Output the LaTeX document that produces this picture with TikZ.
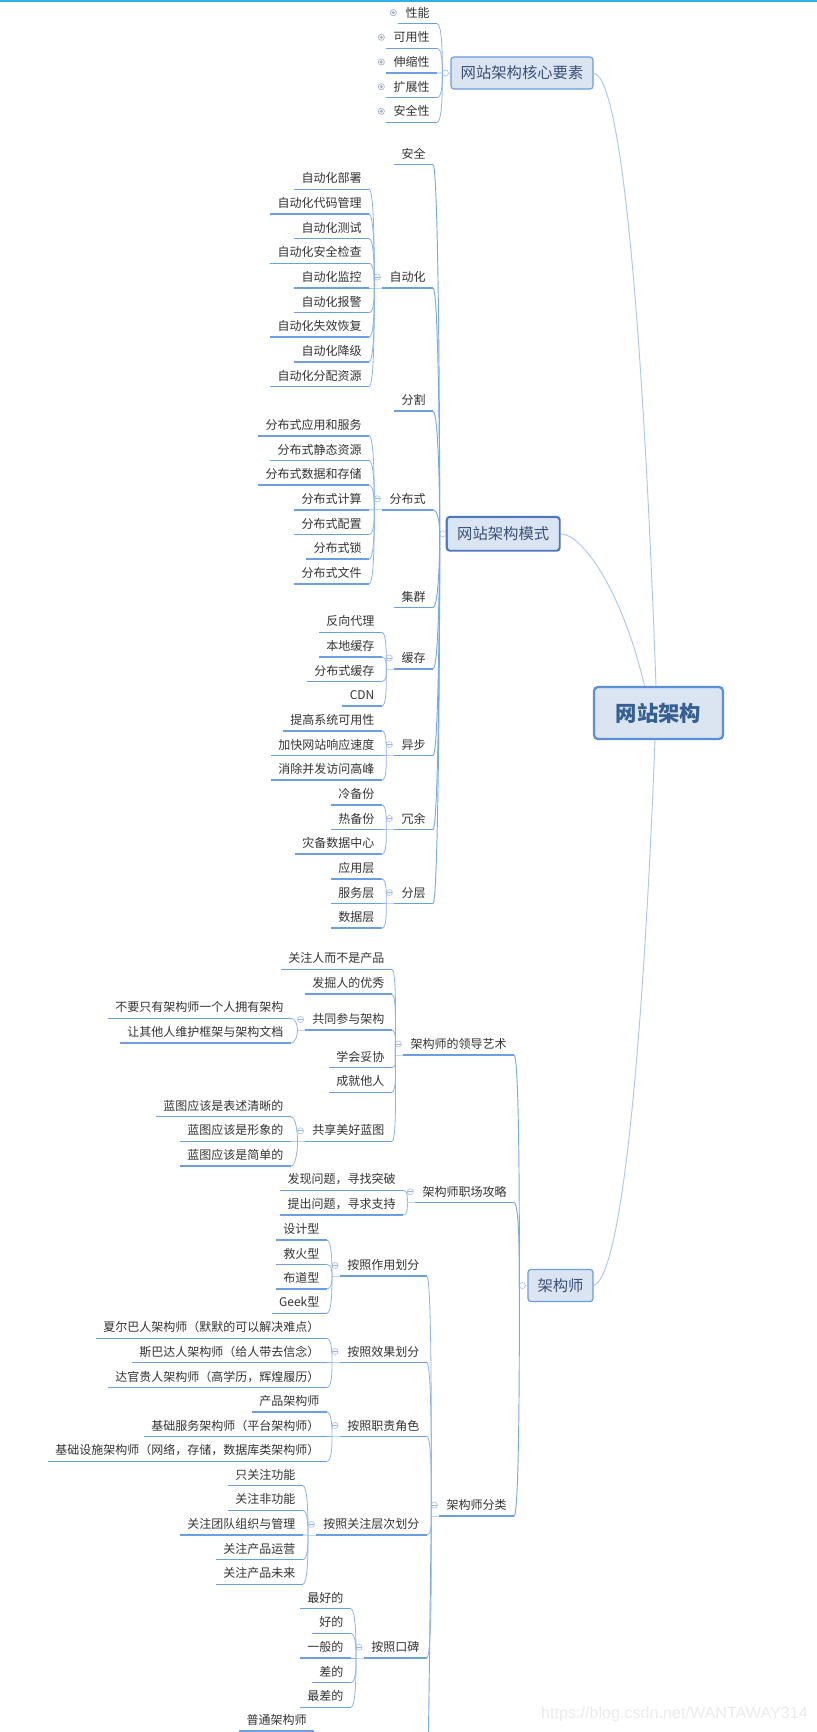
\documentclass[tikz,border=0pt]{standalone}
\usepackage{fontspec}
\setmainfont{Noto Sans CJK SC}
\newfontfamily\markfont{Liberation Sans}
\usetikzlibrary{calc}
\definecolor{barblue}{HTML}{2FB1E8}
\definecolor{underblue}{HTML}{6A9FE3}
\definecolor{connblue}{HTML}{8DB3EA}
\definecolor{curveblue}{HTML}{A9C8F0}
\definecolor{foldblue}{HTML}{A8C4EC}
\definecolor{boxfill}{HTML}{DBE5F2}
\definecolor{boxline}{HTML}{6C9BDE}
\definecolor{rootline}{HTML}{5B8FD6}
\definecolor{modeline}{HTML}{4F74C0}
\definecolor{boxtext}{HTML}{3A5078}
\definecolor{roottext}{HTML}{365F91}
\definecolor{leaftext}{HTML}{333333}
\definecolor{marktext}{HTML}{EBEBEB}

\begin{document}
\begin{tikzpicture}[x=0.75pt,y=-0.75pt]
\tikzstyle{under}=[draw=underblue,line width=1.1pt]
\tikzstyle{leaf}=[anchor=south east,inner xsep=5.3pt,inner ysep=0pt,minimum height=15.75pt,text=leaftext,font=\fontsize{9}{11}\selectfont,text height=7.8pt,text depth=1.2pt,append after command={(\tikzlastnode.south west) edge [under] (\tikzlastnode.south east)}]
\tikzstyle{conn}=[draw=connblue,line width=0.6pt,to path={.. controls ($(\tikztostart)+(5,0)$) and ($(\tikztotarget)!0.4!(\tikztotarget |- \tikztostart)$) .. (\tikztotarget)}]
\tikzstyle{trunk}=[draw=underblue!90,line width=0.7pt,to path={.. controls ($(\tikztostart)+(5,0)$) and ($(\tikztotarget)!0.4!(\tikztotarget |- \tikztostart)$) .. (\tikztotarget)}]
\tikzstyle{faint}=[draw=foldblue!70,line width=0.5pt]
\tikzstyle{curve}=[draw=curveblue,line width=0.7pt]
\tikzstyle{ring}=[circle,draw=foldblue,fill=white,line width=0.5pt,minimum size=4.6pt,inner sep=0pt]
\tikzstyle{fold}=[ring,path picture={\draw [draw=foldblue!80!gray] (path picture bounding box.west) -- (path picture bounding box.east);}]
\tikzstyle{dotm}=[ring,draw=foldblue!70!gray,path picture={\fill [fill=foldblue!60!gray] (path picture bounding box.center) circle (1.6);}]
\tikzstyle{box}=[rounded corners=2.2pt,draw=boxline,fill=boxfill,line width=0.9pt,inner sep=0pt,text=boxtext,font=\fontsize{11.5}{13}\selectfont]
\useasboundingbox (0,0) rectangle (817,1732);
\fill [white] (0,0) rectangle (817,1732);
\fill [barblue] (0,0) rectangle (817,1.5);

% root and the three main topics
\node [box,rounded corners=3pt,draw=rootline,line width=1.7pt,minimum width=96.75pt,minimum height=39pt,text=roottext,font=\fontsize{16}{18}\selectfont\bfseries] (root) at (658.5,713) {网站架构};
\node [box,minimum width=106.5pt,minimum height=24pt] (core) at (522,73) {网站架构核心要素};
\node [box,draw=modeline,line width=1.6pt,minimum width=84.65pt,minimum height=25.2pt] (mode) at (503.2,533.8) {网站架构模式};
\node [rounded corners=1.4pt,draw=white!70!boxline,line width=0.7pt,inner sep=0pt,minimum width=82.4pt,minimum height=23pt] (modein) at (mode.center) {};
\node [box,minimum width=48.75pt,minimum height=24pt] (arch) at (560.5,1285.5) {架构师};
\draw [curve] (core.east) .. controls (625,78) and (645,380) .. ([shift={(-2.5,0)}]root.north);
\draw [curve] (mode.east) .. controls (582,534) and (622,590) .. ([shift={(-14,0)}]root.north);
\draw [curve] (arch.east) .. controls (625,1275) and (645,1000) .. ([shift={(-3.5,0)}]root.south);
\coordinate (corej) at ([shift={(-8,0)}]core.west);
\coordinate (modej) at ([shift={(-6,0)}]mode.west);
\coordinate (archj) at ([shift={(-8,0)}]arch.west);
\draw [faint] (corej) -- (core.west);
\draw [faint] (modej) -- (mode.west);
\draw [faint] (archj) -- (arch.west);
\node [ring] (coref) at ([shift={(-5,0)}]core.west) {};
\node [ring] (modef) at ([shift={(-3,0)}]mode.west) {};
\node [ring] (archf) at ([shift={(-5,0)}]arch.west) {};

% core topics
\node [leaf] (core1) at (437,23.7) {性能};
\node [leaf] (core2) at (437,48.3) {可用性};
\node [leaf] (core3) at (437,73) {伸缩性};
\node [leaf] (core4) at (437,97.7) {扩展性};
\node [leaf] (core5) at (437,122.3) {安全性};
\node [dotm] (core1m) at ([shift={(-5,-11)}]core1.south west) {};
\node [dotm] (core2m) at ([shift={(-5,-11)}]core2.south west) {};
\node [dotm] (core3m) at ([shift={(-5,-11)}]core3.south west) {};
\node [dotm] (core4m) at ([shift={(-5,-11)}]core4.south west) {};
\node [dotm] (core5m) at ([shift={(-5,-11)}]core5.south west) {};
\draw [conn] (core1.south east) to (corej);
\draw [conn] (core2.south east) to (corej);
\draw [conn] (core3.south east) to (corej);
\draw [conn] (core4.south east) to (corej);
\draw [conn] (core5.south east) to (corej);

% mode topics
\node [leaf] (safe) at (433,164.7) {安全};
\node [leaf] (auto) at (433,288) {自动化};
\node [leaf] (cut) at (433,411.2) {分割};
\node [leaf] (dist) at (433,509.8) {分布式};
\node [leaf] (clus) at (433,607.5) {集群};
\node [leaf] (cache) at (433,669) {缓存};
\node [leaf] (async) at (433,755.5) {异步};
\node [leaf] (redun) at (433,829.5) {冗余};
\node [leaf] (layer) at (433,903.5) {分层};
\draw [trunk] (safe.south east) to (modej);
\draw [trunk] (auto.south east) to (modej);
\draw [trunk] (cut.south east) to (modej);
\draw [trunk] (dist.south east) to (modej);
\draw [trunk] (clus.south east) to (modej);
\draw [trunk] (cache.south east) to (modej);
\draw [trunk] (async.south east) to (modej);
\draw [trunk] (redun.south east) to (modej);
\draw [trunk] (layer.south east) to (modej);

\node [fold] (autof) at ([shift={(-5,-11)}]auto.south west) {};
\coordinate (autoj) at ([shift={(-8,0)}]auto.south west);
\draw [faint] (autoj) -- (auto.south west);
\node [leaf] (auto1) at (369,189.3) {自动化部署};
\node [leaf] (auto2) at (369,214) {自动化代码管理};
\node [leaf] (auto3) at (369,238.6) {自动化测试};
\node [leaf] (auto4) at (369,263.3) {自动化安全检查};
\node [leaf] (auto5) at (369,288) {自动化监控};
\node [leaf] (auto6) at (369,312.6) {自动化报警};
\node [leaf] (auto7) at (369,337.2) {自动化失效恢复};
\node [leaf] (auto8) at (369,361.9) {自动化降级};
\node [leaf] (auto9) at (369,386.5) {自动化分配资源};
\draw [conn] (auto1.south east) to (autoj);
\draw [conn] (auto2.south east) to (autoj);
\draw [conn] (auto3.south east) to (autoj);
\draw [conn] (auto4.south east) to (autoj);
\draw [conn] (auto5.south east) to (autoj);
\draw [conn] (auto6.south east) to (autoj);
\draw [conn] (auto7.south east) to (autoj);
\draw [conn] (auto8.south east) to (autoj);
\draw [conn] (auto9.south east) to (autoj);

\node [fold] (distf) at ([shift={(-5,-11)}]dist.south west) {};
\coordinate (distj) at ([shift={(-8,0)}]dist.south west);
\draw [faint] (distj) -- (dist.south west);
\node [leaf] (dist1) at (369,435.8) {分布式应用和服务};
\node [leaf] (dist2) at (369,460.5) {分布式静态资源};
\node [leaf] (dist3) at (369,485.2) {分布式数据和存储};
\node [leaf] (dist4) at (369,509.8) {分布式计算};
\node [leaf] (dist5) at (369,534.5) {分布式配置};
\node [leaf] (dist6) at (369,559.2) {分布式锁};
\node [leaf] (dist7) at (369,583.9) {分布式文件};
\draw [conn] (dist1.south east) to (distj);
\draw [conn] (dist2.south east) to (distj);
\draw [conn] (dist3.south east) to (distj);
\draw [conn] (dist4.south east) to (distj);
\draw [conn] (dist5.south east) to (distj);
\draw [conn] (dist6.south east) to (distj);
\draw [conn] (dist7.south east) to (distj);

\node [fold] (cachef) at ([shift={(-5,-11)}]cache.south west) {};
\coordinate (cachej) at ([shift={(-8,0)}]cache.south west);
\draw [faint] (cachej) -- (cache.south west);
\node [leaf] (cache1) at (381.7,632.3) {反向代理};
\node [leaf] (cache2) at (381.7,657) {本地缓存};
\node [leaf] (cache3) at (381.7,681.5) {分布式缓存};
\node [leaf] (cache4) at (381.7,706.2) {CDN};
\draw [conn] (cache1.south east) to (cachej);
\draw [conn] (cache2.south east) to (cachej);
\draw [conn] (cache3.south east) to (cachej);
\draw [conn] (cache4.south east) to (cachej);

\node [fold] (asyncf) at ([shift={(-5,-11)}]async.south west) {};
\coordinate (asyncj) at ([shift={(-8,0)}]async.south west);
\draw [faint] (asyncj) -- (async.south west);
\node [leaf] (async1) at (381.7,730.9) {提高系统可用性};
\node [leaf] (async2) at (381.7,755.5) {加快网站响应速度};
\node [leaf] (async3) at (381.7,780.2) {消除并发访问高峰};
\draw [conn] (async1.south east) to (asyncj);
\draw [conn] (async2.south east) to (asyncj);
\draw [conn] (async3.south east) to (asyncj);

\node [fold] (redunf) at ([shift={(-5,-11)}]redun.south west) {};
\coordinate (redunj) at ([shift={(-8,0)}]redun.south west);
\draw [faint] (redunj) -- (redun.south west);
\node [leaf] (redun1) at (381.7,804.9) {冷备份};
\node [leaf] (redun2) at (381.7,829.5) {热备份};
\node [leaf] (redun3) at (381.7,854.2) {灾备数据中心};
\draw [conn] (redun1.south east) to (redunj);
\draw [conn] (redun2.south east) to (redunj);
\draw [conn] (redun3.south east) to (redunj);

\node [fold] (layerf) at ([shift={(-5,-11)}]layer.south west) {};
\coordinate (layerj) at ([shift={(-8,0)}]layer.south west);
\draw [faint] (layerj) -- (layer.south west);
\node [leaf] (layer1) at (381.7,878.9) {应用层};
\node [leaf] (layer2) at (381.7,903.5) {服务层};
\node [leaf] (layer3) at (381.7,928.2) {数据层};
\draw [conn] (layer1.south east) to (layerj);
\draw [conn] (layer2.south east) to (layerj);
\draw [conn] (layer3.south east) to (layerj);

% arch topics
\node [leaf] (lead) at (514,1055) {架构师的领导艺术};
\node [leaf] (career) at (514,1202.7) {架构师职场攻略};
\node [leaf] (kind) at (514,1516) {架构师分类};
\draw [trunk] (lead.south east) to (archj);
\draw [trunk] (career.south east) to (archj);
\draw [trunk] (kind.south east) to (archj);

\node [fold] (leadf) at ([shift={(-5,-11)}]lead.south west) {};
\coordinate (leadj) at ([shift={(-8,0)}]lead.south west);
\draw [faint] (leadj) -- (lead.south west);
\node [leaf] (lead1) at (391.7,969.3) {关注人而不是产品};
\node [leaf] (lead2) at (391.7,994) {发掘人的优秀};
\node [leaf] (join) at (391.7,1030) {共同参与架构};
\node [leaf] (lead3) at (391.7,1067.7) {学会妥协};
\node [leaf] (lead4) at (391.7,1092.3) {成就他人};
\node [leaf] (blue) at (391.7,1141.3) {共享美好蓝图};
\draw [conn] (lead1.south east) to (leadj);
\draw [conn] (lead2.south east) to (leadj);
\draw [conn] (join.south east) to (leadj);
\draw [conn] (lead3.south east) to (leadj);
\draw [conn] (lead4.south east) to (leadj);
\draw [conn] (blue.south east) to (leadj);

\node [fold] (joinf) at ([shift={(-4.5,-10.5)}]join.south west) {};
\coordinate (joinj) at ([shift={(-7.5,0)}]join.south west);
\draw [faint] (joinj) -- (join.south west);
\node [leaf] (join1) at (290.7,1018.3) {不要只有架构师一个人拥有架构};
\node [leaf] (join2) at (290.7,1043) {让其他人维护框架与架构文档};
\draw [conn] (join1.south east) to (joinj);
\draw [conn] (join2.south east) to (joinj);

\node [fold] (bluef) at ([shift={(-4.5,-10.5)}]blue.south west) {};
\coordinate (bluej) at ([shift={(-7.5,0)}]blue.south west);
\draw [faint] (bluej) -- (blue.south west);
\node [leaf] (blue1) at (290.7,1116.7) {蓝图应该是表述清晰的};
\node [leaf] (blue2) at (290.7,1141.3) {蓝图应该是形象的};
\node [leaf] (blue3) at (290.7,1166) {蓝图应该是简单的};
\draw [conn] (blue1.south east) to (bluej);
\draw [conn] (blue2.south east) to (bluej);
\draw [conn] (blue3.south east) to (bluej);

\node [fold] (careerf) at ([shift={(-5,-11)}]career.south west) {};
\coordinate (careerj) at ([shift={(-8,0)}]career.south west);
\draw [faint] (careerj) -- (career.south west);
\node [leaf] (career1) at (403,1190.3) {发现问题，寻找突破};
\node [leaf] (career2) at (403,1215) {提出问题，寻求支持};
\draw [conn] (career1.south east) to (careerj);
\draw [conn] (career2.south east) to (careerj);

\node [fold] (kindf) at ([shift={(-5,-11)}]kind.south west) {};
\coordinate (kindj) at ([shift={(-8,0)}]kind.south west);
\coordinate (kinde) at (428.5,1732);
\draw [faint] (kindj) -- (kind.south west);
\draw [trunk,to path={-- (\tikztotarget)}] (kindj) to (kinde);
\node [leaf] (func) at (426.7,1276) {按照作用划分};
\node [leaf] (effect) at (426.7,1362.4) {按照效果划分};
\node [leaf] (duty) at (426.7,1436.4) {按照职责角色};
\node [leaf] (level) at (426.7,1535) {按照关注层次划分};
\node [leaf] (word) at (426.7,1658) {按照口碑};
\draw [conn] (func.south east) to (kindj);
\draw [conn] (effect.south east) to (kindj);
\draw [conn] (duty.south east) to (kindj);
\draw [conn] (level.south east) to (kindj);
\draw [conn] (word.south east) to (kindj);

\node [fold] (funcf) at ([shift={(-5,-10.5)}]func.south west) {};
\coordinate (funcj) at ([shift={(-8,0)}]func.south west);
\draw [faint] (funcj) -- (func.south west);
\node [leaf] (func1) at (326.7,1240) {设计型};
\node [leaf] (func2) at (326.7,1264.4) {救火型};
\node [leaf] (func3) at (326.7,1289) {布道型};
\node [leaf] (func4) at (326.7,1313.3) {Geek型};
\draw [conn] (func1.south east) to (funcj);
\draw [conn] (func2.south east) to (funcj);
\draw [conn] (func3.south east) to (funcj);
\draw [conn] (func4.south east) to (funcj);

\node [fold] (effectf) at ([shift={(-5,-11)}]effect.south west) {};
\coordinate (effectj) at ([shift={(-8,0)}]effect.south west);
\draw [faint] (effectj) -- (effect.south west);
\node [leaf] (effect1) at (326.7,1338.3) {夏尔巴人架构师（默默的可以解决难点）};
\node [leaf] (effect2) at (326.7,1362.4) {斯巴达人架构师（给人带去信念）};
\node [leaf] (effect3) at (326.7,1387.7) {达官贵人架构师（高学历，辉煌履历）};
\draw [conn] (effect1.south east) to (effectj);
\draw [conn] (effect2.south east) to (effectj);
\draw [conn] (effect3.south east) to (effectj);

\node [fold] (dutyf) at ([shift={(-5,-11)}]duty.south west) {};
\coordinate (dutyj) at ([shift={(-8,0)}]duty.south west);
\draw [faint] (dutyj) -- (duty.south west);
\node [leaf] (duty1) at (326.7,1412) {产品架构师};
\node [leaf] (duty2) at (326.7,1436.4) {基础服务架构师（平台架构师）};
\node [leaf] (duty3) at (326.7,1461.3) {基础设施架构师（网络，存储，数据库类架构师）};
\draw [conn] (duty1.south east) to (dutyj);
\draw [conn] (duty2.south east) to (dutyj);
\draw [conn] (duty3.south east) to (dutyj);

\node [fold] (levelf) at ([shift={(-4.5,-10.7)}]level.south west) {};
\coordinate (levelj) at ([shift={(-8,0)}]level.south west);
\draw [faint] (levelj) -- (level.south west);
\node [leaf] (level1) at (302.7,1485.7) {只关注功能};
\node [leaf] (level2) at (302.7,1510.3) {关注非功能};
\node [leaf] (level3) at (302.7,1535) {关注团队组织与管理};
\node [leaf] (level4) at (302.7,1559.7) {关注产品运营};
\node [leaf] (level5) at (302.7,1584.3) {关注产品未来};
\draw [conn] (level1.south east) to (levelj);
\draw [conn] (level2.south east) to (levelj);
\draw [conn] (level3.south east) to (levelj);
\draw [conn] (level4.south east) to (levelj);
\draw [conn] (level5.south east) to (levelj);

\node [fold] (wordf) at ([shift={(-5,-10.7)}]word.south west) {};
\coordinate (wordj) at ([shift={(-8,0)}]word.south west);
\draw [faint] (wordj) -- (word.south west);
\node [leaf] (word1) at (350.7,1608.7) {最好的};
\node [leaf] (word2) at (350.7,1633.3) {好的};
\node [leaf] (word3) at (350.7,1658) {一般的};
\node [leaf] (word4) at (350.7,1682.7) {差的};
\node [leaf] (word5) at (350.7,1707.3) {最差的};
\draw [conn] (word1.south east) to (wordj);
\draw [conn] (word2.south east) to (wordj);
\draw [conn] (word3.south east) to (wordj);
\draw [conn] (word4.south east) to (wordj);
\draw [conn] (word5.south east) to (wordj);

\node [leaf] (plain) at (314,1731.2) {普通架构师};

\node [anchor=east,inner sep=0pt,text=marktext,font=\markfont\fontsize{12.1}{14}\selectfont] (mark) at (808,1714) {https://blog.csdn.net/WANTAWAY314};
\end{tikzpicture}
\end{document}
